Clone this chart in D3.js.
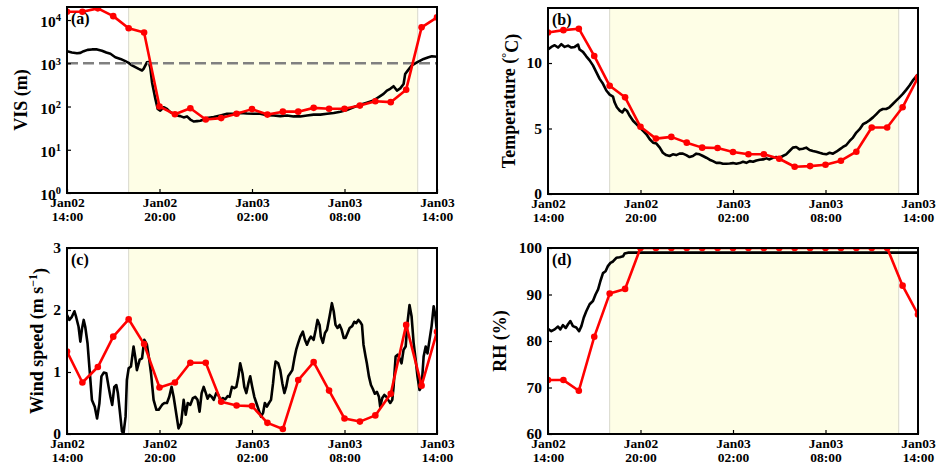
<!DOCTYPE html>
<html>
<head>
<meta charset="utf-8">
<script src="https://cdn.jsdelivr.net/npm/d3@7"></script>
<style>
body { margin: 0; background: #fff; }
svg text { font-family: "Liberation Serif", "Times New Roman", serif; font-weight: bold; fill: #000; }
</style>
</head>
<body>
<svg id="chart" width="937" height="470"></svg>
<script>
// --- Data (time in minutes after Jan02 14:00) ---
const hourMinutes = [0, 60, 120, 180, 240, 300, 360, 420, 480, 540, 600, 660, 720,
  780, 840, 900, 960, 1020, 1080, 1140, 1200, 1260, 1320, 1380, 1440];
const tickMinutes = [0, 360, 720, 1080, 1440];
const fogStart = 240, fogEnd = 1365;

// hourly (red) series
const visHourly = [15500, 15500, 18600, 12300, 6450, 5130, 100, 66, 91, 50, 54, 68, 87,
  65, 76, 76, 93, 89, 89, 105, 132, 126, 245, 6760, 11500];
const tempHourly = [12.33, 12.51, 12.62, 10.54, 8.26, 7.38, 5.13, 4.23, 4.36, 3.92, 3.54, 3.51, 3.21,
  3.03, 3.03, 2.69, 2.08, 2.13, 2.23, 2.54, 3.23, 5.08, 5.08, 6.62, 8.9];
const windHourly = [1.33, 0.83, 1.08, 1.57, 1.85, 1.45, 0.75, 0.83, 1.15, 1.15, 0.52, 0.46, 0.45,
  0.18, 0.08, 0.87, 1.16, 0.70, 0.25, 0.20, 0.30, 0.65, 1.76, 0.78, 1.65];
const rhHourly = [71.6, 71.6, 69.3, 80.9, 90.2, 91.2, 100, 100, 100, 100, 100, 100, 100,
  100, 100, 100, 100, 100, 100, 100, 100, 100, 100, 91.9, 85.7];

// high-frequency (black) series: [minute, value]
const visObs = [[0,1900],[19,1780],[39,1700],[52,1740],[65,1900],[80,2040],[97,2090],[117,2090],
  [136,1950],[153,1780],[169,1660],[188,1380],[208,1260],[223,1150],[240,1020],[253,890],[266,810],
  [279,740],[292,680],[298,740],[305,890],[311,1050],[318,1070],[324,800],[331,360],[344,150],
  [353,88],[363,80],[376,96],[389,88],[402,74],[415,68],[428,62],[441,60],[454,56],[467,59],
  [480,50],[493,45],[506,46],[519,47],[532,50],[545,54],[571,57],[597,62],[623,68],[649,69],
  [675,71],[700,69],[726,68],[752,68],[778,63],[804,62],[830,60],[856,62],[882,59],[908,59],
  [934,62],[960,65],[986,65],[1012,68],[1038,71],[1064,76],[1089,83],[1115,96],[1141,110],
  [1167,123],[1193,138],[1206,155],[1219,174],[1232,195],[1245,234],[1258,257],[1271,295],
  [1284,234],[1297,263],[1310,331],[1316,562],[1326,676],[1342,891],[1362,1050],[1375,1150],
  [1388,1260],[1407,1380],[1420,1450],[1440,1410]];
const tempObs = [[0,11.03],[13,11.23],[26,11.36],[39,11.18],[52,11.44],[65,11.23],[78,11.33],
  [91,11.18],[104,11.23],[117,11.41],[123,11.03],[136,10.85],[149,10.51],[162,10.2],[175,9.82],
  [188,9.31],[201,8.79],[214,8.41],[227,7.90],[240,7.59],[253,7.44],[259,7.0],[268,6.62],
  [279,6.36],[289,6.23],[298,6.49],[307,6.36],[318,5.97],[331,5.59],[344,5.33],[357,5.08],
  [370,4.82],[383,4.56],[396,4.18],[409,3.92],[422,3.85],[435,3.54],[447,3.15],[460,2.97],
  [473,2.90],[486,3.03],[499,2.97],[512,3.08],[525,3.08],[538,2.97],[551,2.82],[564,2.90],
  [577,3.08],[590,3.03],[603,2.90],[616,2.77],[629,2.62],[642,2.51],[655,2.38],[668,2.38],
  [681,2.31],[694,2.31],[707,2.33],[720,2.36],[733,2.31],[746,2.36],[759,2.46],[772,2.38],
  [785,2.51],[798,2.46],[811,2.56],[824,2.62],[837,2.64],[850,2.72],[862,2.64],[875,2.77],
  [888,2.82],[901,2.77],[914,2.90],[927,3.03],[940,3.28],[953,3.54],[966,3.59],[979,3.41],
  [992,3.46],[1005,3.54],[1018,3.36],[1031,3.28],[1044,3.23],[1057,3.15],[1070,3.08],
  [1083,3.03],[1096,3.15],[1109,3.08],[1122,3.23],[1135,3.41],[1148,3.59],[1161,3.74],
  [1174,4.05],[1187,4.31],[1200,4.69],[1213,4.95],[1226,5.33],[1239,5.46],[1252,5.64],
  [1265,5.85],[1278,6.10],[1291,6.36],[1303,6.49],[1316,6.49],[1329,6.62],[1342,6.87],
  [1355,7.13],[1368,7.38],[1381,7.64],[1394,7.95],[1407,8.28],[1420,8.67],[1440,9.13]];
const windObs = [[0,1.92],[9,1.84],[19,1.89],[29,1.98],[36,1.88],[45,1.73],[52,1.49],[58,1.69],
  [65,1.84],[71,1.73],[80,1.46],[88,1.03],[97,0.55],[108,0.44],[117,0.25],[126,0.49],[134,0.93],
  [143,0.99],[153,0.98],[162,0.76],[169,0.60],[176,0.47],[184,0.76],[192,0.79],[198,0.66],
  [205,0.39],[214,0.04],[220,0.01],[228,0.28],[233,0.87],[240,1.06],[249,1.09],[259,1.41],
  [266,1.23],[272,1.03],[283,1.20],[292,1.22],[301,1.52],[311,1.44],[320,1.20],[327,0.98],
  [337,0.55],[348,0.39],[357,0.39],[370,0.47],[379,0.50],[389,0.50],[398,0.60],[407,0.76],
  [415,0.60],[424,0.36],[434,0.09],[444,0.17],[454,0.55],[462,0.31],[470,0.50],[480,0.47],
  [490,0.58],[499,0.60],[508,0.55],[516,0.36],[524,0.66],[532,0.76],[541,0.65],[547,0.57],
  [555,0.63],[563,0.60],[571,0.55],[581,0.66],[589,0.63],[597,0.55],[607,0.58],[616,0.56],
  [625,0.61],[633,0.60],[642,0.76],[651,0.74],[659,0.76],[667,0.93],[674,1.14],[683,0.98],
  [690,0.76],[698,0.66],[706,0.82],[713,0.93],[721,0.76],[729,0.60],[737,0.50],[746,0.39],
  [755,0.28],[763,0.34],[770,0.50],[778,0.44],[786,0.50],[794,0.55],[802,0.82],[807,1.03],
  [812,1.17],[822,1.14],[830,1.03],[838,0.82],[846,0.66],[853,0.76],[861,0.93],[869,0.98],
  [877,1.03],[885,1.22],[892,1.36],[900,1.47],[908,1.57],[918,1.65],[926,1.52],[934,1.44],
  [942,1.52],[949,1.57],[960,1.52],[968,1.68],[975,1.84],[983,1.76],[988,1.57],[996,1.47],
  [1004,1.63],[1012,1.68],[1022,1.90],[1031,2.11],[1038,1.98],[1045,1.76],[1053,1.71],
  [1061,1.76],[1069,1.68],[1077,1.55],[1084,1.55],[1092,1.63],[1100,1.71],[1110,1.74],
  [1118,1.81],[1126,1.79],[1134,1.84],[1141,1.81],[1148,1.76],[1154,1.44],[1162,1.25],
  [1167,1.14],[1175,0.93],[1183,0.79],[1190,0.73],[1198,0.65],[1206,0.68],[1214,0.60],
  [1219,0.44],[1227,0.58],[1235,0.63],[1243,0.60],[1250,0.55],[1258,0.50],[1266,0.55],
  [1271,0.76],[1279,1.25],[1287,1.28],[1294,1.22],[1302,1.14],[1310,1.36],[1318,1.41],
  [1325,1.79],[1333,2.08],[1341,1.90],[1349,1.47],[1357,1.20],[1364,0.93],[1372,0.71],
  [1380,0.76],[1388,1.25],[1396,1.41],[1403,1.30],[1411,1.52],[1419,1.74],[1427,2.06],
  [1434,1.90],[1440,1.63]];
const rhObs = [[0,82.6],[13,82.1],[26,82.5],[39,83.1],[48,82.5],[58,83.4],[69,82.8],[78,83.6],
  [87,84.3],[97,83.2],[110,82.9],[121,82.1],[130,83.2],[139,85.0],[149,86.4],[162,87.9],
  [175,88.6],[185,90.0],[195,91.1],[204,92.9],[214,94.6],[224,95.0],[233,96.1],[243,96.8],
  [253,97.1],[266,97.9],[279,98.0],[292,98.2],[298,98.8],[311,99.0],[1440,99.0]];

const visTicks = [1, 10, 100, 1000, 10000];
const tempTicks = [0, 5, 10];
const windTicks = [0, 1, 2, 3];
const rhTicks = [60, 70, 80, 90, 100];

// --- Helpers ---
const t0 = new Date(2017, 0, 2, 14, 0);
const toDate = m => new Date(t0.getTime() + m * 60000);
const fmtDay = d3.timeFormat("%b%d");
const fmtTime = d3.timeFormat("%H:%M");

const svg = d3.select("#chart");

const panels = [
  { key: "a", left: 67, top: 7, y: d3.scaleLog().domain([1, 2e4]), ticks: visTicks, log: true,
    obs: visObs, hourly: visHourly, titleX: -46, threshold: 1000 },
  { key: "b", left: 548, top: 8, y: d3.scaleLinear().domain([0, 14.2]), ticks: tempTicks,
    obs: tempObs, hourly: tempHourly, titleX: -39 },
  { key: "c", left: 67, top: 248, y: d3.scaleLinear().domain([0, 3]), ticks: windTicks,
    obs: windObs, hourly: windHourly, titleX: -30 },
  { key: "d", left: 548, top: 248, y: d3.scaleLinear().domain([60, 100]), ticks: rhTicks,
    obs: rhObs, hourly: rhHourly, titleX: -48 }
];

const W = 370, H = 186;

panels.forEach(p => {
  const g = svg.append("g").attr("transform", `translate(${p.left},${p.top})`);
  const x = d3.scaleTime().domain([toDate(0), toDate(1440)]).range([0, W]);
  const y = p.y.range([H, 0]);

  g.append("clipPath").attr("id", "clip-" + p.key)
    .append("rect").attr("width", W).attr("height", H);

  // fog period shading
  const x1 = x(toDate(fogStart)), x2 = x(toDate(fogEnd));
  g.append("rect")
    .attr("x", x1).attr("y", 0)
    .attr("width", x2 - x1).attr("height", H)
    .attr("fill", "#fefee6");
  [x1, x2].forEach(xx => g.append("line")
    .attr("x1", xx).attr("x2", xx).attr("y1", 0).attr("y2", H)
    .attr("stroke", "#d8d8cc").attr("stroke-width", 1));

  const plot = g.append("g").attr("clip-path", `url(#clip-${p.key})`);

  // observed (black)
  const lineObs = d3.line()
    .x(d => x(toDate(d[0])))
    .y(d => y(d[1]));
  plot.append("path")
    .datum(p.obs)
    .attr("d", lineObs)
    .attr("fill", "none")
    .attr("stroke", "#000")
    .attr("stroke-width", 2.6)
    .attr("stroke-linejoin", "round");

  // visibility threshold
  if (p.threshold) {
    plot.append("line")
      .attr("x1", 0).attr("x2", W)
      .attr("y1", y(p.threshold)).attr("y2", y(p.threshold))
      .attr("stroke", "#808080")
      .attr("stroke-width", 2.6)
      .attr("stroke-dasharray", "11,5");
  }

  // hourly (red)
  const hourly = hourMinutes.map((m, i) => [m, p.hourly[i]]);
  plot.append("path")
    .datum(hourly)
    .attr("d", lineObs)
    .attr("fill", "none")
    .attr("stroke", "#f00")
    .attr("stroke-width", 2.6)
    .attr("stroke-linejoin", "round");
  plot.selectAll("circle.pt")
    .data(hourly)
    .join("circle")
    .attr("class", "pt")
    .attr("cx", d => x(toDate(d[0])))
    .attr("cy", d => y(d[1]))
    .attr("r", 3.3)
    .attr("fill", "#f00");

  // x axis
  const xAxis = g.append("g")
    .attr("transform", `translate(0,${H})`)
    .call(d3.axisBottom(x)
      .tickValues(tickMinutes.map(toDate))
      .tickSizeInner(-4).tickSizeOuter(0)
      .tickFormat(""));
  xAxis.select(".domain").remove();
  xAxis.selectAll(".tick line").attr("stroke", "#000").attr("stroke-width", 1.2);
  xAxis.selectAll(".tick").each(function (d) {
    const t = d3.select(this).append("text")
      .attr("text-anchor", "middle")
      .style("font-size", "13.5px");
    t.append("tspan").attr("x", 0).attr("y", 14).text(fmtDay(d));
    t.append("tspan").attr("x", 0).attr("y", 28).text(fmtTime(d));
  });

  // y axis
  const yAxis = g.append("g")
    .call(d3.axisLeft(y)
      .tickValues(p.ticks)
      .tickSizeInner(-4).tickSizeOuter(0)
      .tickPadding(6)
      .tickFormat(p.log ? "" : d3.format("d")));
  yAxis.select(".domain").remove();
  yAxis.selectAll(".tick line").attr("stroke", "#000").attr("stroke-width", 1.2);
  yAxis.selectAll(".tick text")
    .style("font-size", "15.5px")
    .attr("fill", "#000");
  if (p.log) {
    yAxis.selectAll(".tick").each(function (d) {
      const t = d3.select(this).append("text")
        .attr("x", -6).attr("dy", "0.42em")
        .attr("text-anchor", "end")
        .style("font-size", "15.5px");
      t.append("tspan").text("10");
      t.append("tspan")
        .attr("dy", "-0.55em")
        .style("font-size", "10.5px")
        .text(Math.round(Math.log10(d)));
    });
  }

  // frame
  g.append("rect")
    .attr("width", W).attr("height", H)
    .attr("fill", "none")
    .attr("stroke", "#000")
    .attr("stroke-width", 2);

  // panel label
  g.append("text")
    .attr("x", 4).attr("y", 17)
    .style("font-size", "16px")
    .text(`(${p.key})`);

  // y title
  const title = g.append("text")
    .attr("transform", `translate(${p.titleX},${H / 2}) rotate(-90)`)
    .attr("text-anchor", "middle")
    .attr("dy", "0.35em")
    .style("font-size", "18px");
  if (p.key === "a") {
    title.text("VIS (m)");
  } else if (p.key === "b") {
    title.append("tspan").text("Temperature (");
    title.append("tspan").attr("dy", "-0.45em").style("font-size", "12px").text("°");
    title.append("tspan").attr("dy", "0.45em").text("C)");
  } else if (p.key === "c") {
    title.append("tspan").text("Wind speed (m s");
    title.append("tspan").attr("dy", "-0.5em").style("font-size", "12px").text("−1");
    title.append("tspan").attr("dy", "0.5em").text(")");
  } else {
    title.text("RH (%)");
  }
});
</script>
</body>
</html>
